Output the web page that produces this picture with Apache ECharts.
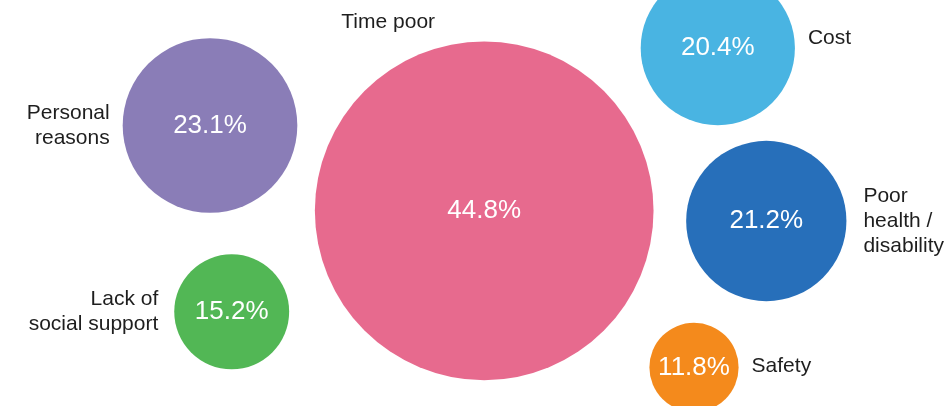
<!DOCTYPE html>
<html>
<head>
<meta charset="utf-8">
<script src="https://cdn.jsdelivr.net/npm/echarts@6/dist/echarts.min.js"></script>
<style>
html,body{margin:0;padding:0;background:#fff;}
#chart{width:947px;height:406px;}
</style>
</head>
<body>
<div id="chart"></div>
<script>
// Data
var categories = ['Time poor', 'Personal reasons', 'Lack of social support', 'Cost', 'Poor health / disability', 'Safety'];
var values = [44.8, 23.1, 15.2, 20.4, 21.2, 11.8];
// Bubble layout (packed-bubble positions)
var bubbleX = [484.2, 210, 231.7, 717.8, 766.3, 694];
var bubbleY = [210.8, 125.5, 311.8, 48.1, 221, 367.4];

var colors = ['#E76A8E', '#8A7DB7', '#52B755', '#49B4E2', '#276FBA', '#F48A1C'];
var nameText = ['Time poor', 'Personal\nreasons', 'Lack of\nsocial support', 'Cost', 'Poor\nhealth /\ndisability', 'Safety'];
var namePos = ['top', 'left', 'left', 'right', 'right', 'right'];
var nameDist = [7, 13, 16, 13, 17, 13];
var nameOffset = [[-96, 0], [0, 0], [0, 0], [0, -10], [0, 0], [0, -1]];
var nameAlign = ['center', 'right', 'right', 'left', 'left', 'left'];
var scale = 7.56; // diameter per percentage point
var FONT = '"Liberation Sans", Arial, sans-serif';

var chart = echarts.init(document.getElementById('chart'), null, {renderer: 'canvas'});

var bubbleData = categories.map(function (c, i) {
  return {
    name: c,
    value: [bubbleX[i], bubbleY[i], values[i]],
    itemStyle: {color: colors[i], opacity: 1}
  };
});
var nameData = categories.map(function (c, i) {
  return {
    name: c,
    value: [bubbleX[i], bubbleY[i], values[i]],
    label: {
      position: namePos[i],
      distance: nameDist[i],
      offset: nameOffset[i],
      align: nameAlign[i],
      formatter: nameText[i]
    }
  };
});

chart.setOption({
  animation: false,
  backgroundColor: '#ffffff',
  grid: {left: 0, right: 0, top: 0, bottom: 0},
  xAxis: {type: 'value', min: 0, max: 947, show: false},
  yAxis: {type: 'value', min: 0, max: 406, inverse: true, show: false},
  series: [
    {
      type: 'scatter',
      clip: false,
      data: bubbleData,
      symbol: 'circle',
      symbolSize: function (v) { return v[2] * scale; },
      itemStyle: {opacity: 1},
      label: {
        show: true,
        position: 'inside',
        color: '#ffffff',
        fontFamily: FONT,
        fontSize: 26,
        formatter: function (p) { return p.value[2].toFixed(1) + '%'; }
      },
      emphasis: {disabled: true}
    },
    {
      type: 'scatter',
      clip: false,
      data: nameData,
      symbol: 'circle',
      symbolSize: function (v) { return v[2] * scale; },
      itemStyle: {color: 'rgba(0,0,0,0)', opacity: 1},
      label: {
        show: true,
        color: '#1e1e1e',
        fontFamily: FONT,
        fontSize: 21,
        lineHeight: 25
      },
      emphasis: {disabled: true}
    }
  ]
});
</script>
</body>
</html>
